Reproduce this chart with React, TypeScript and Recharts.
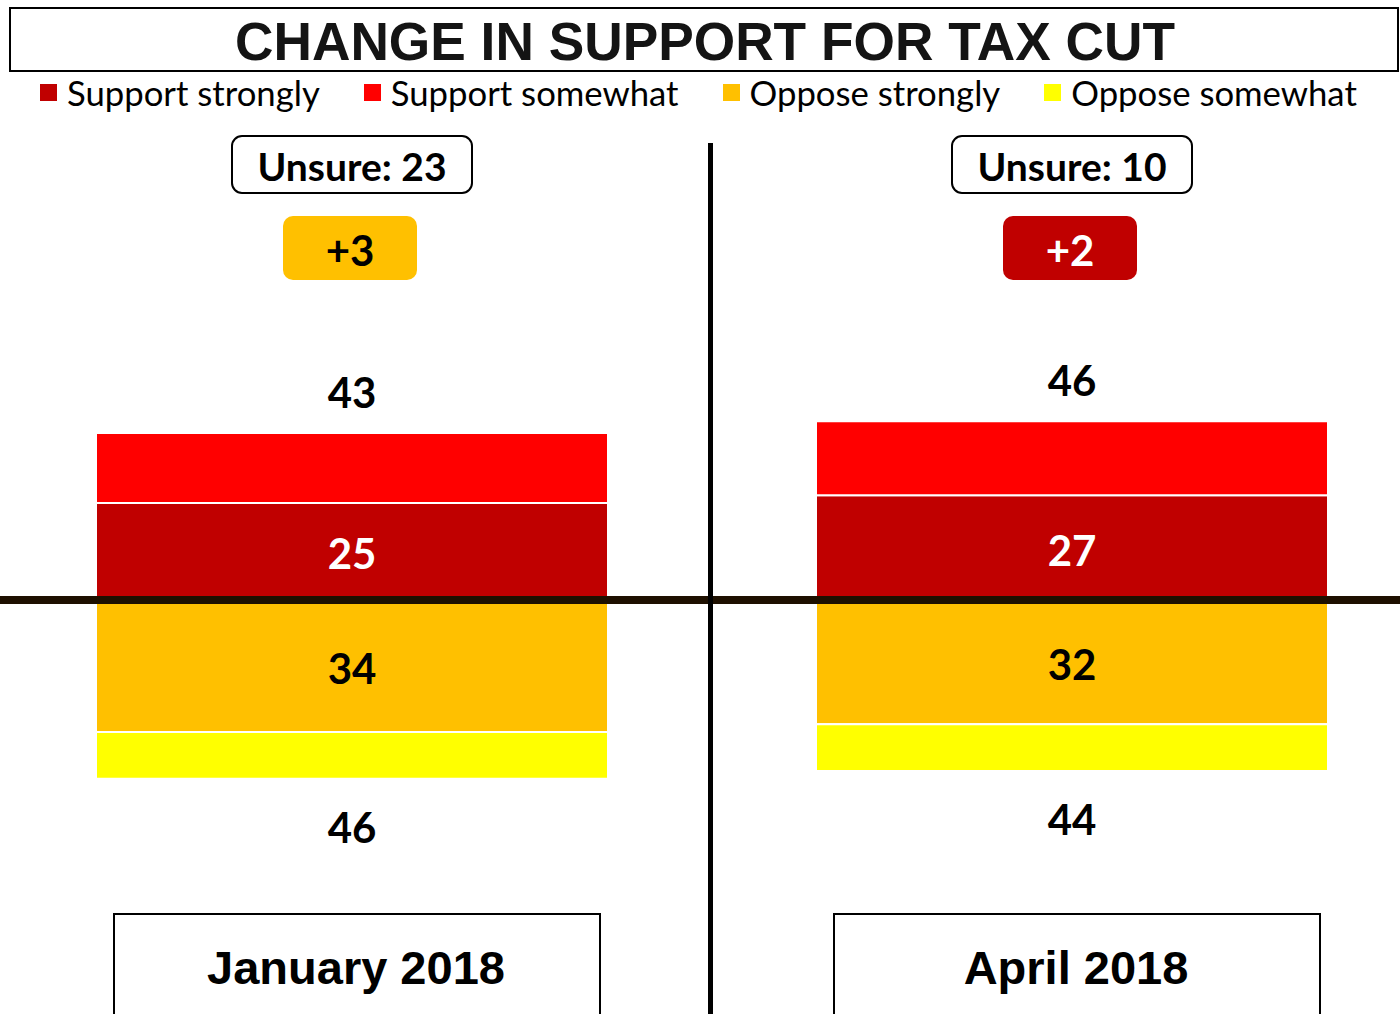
import React from "react";
import { BarChart, Bar, XAxis, YAxis, ReferenceLine, LabelList } from "recharts";

const categories = ["January 2018", "April 2018"];
const supportStrongly = [25, 27];
const supportSomewhat = [18, 19];
const opposeStrongly = [34, 32];
const opposeSomewhat = [12, 12];
const unsure = [23, 10];

const seriesNames = ["Support strongly", "Support somewhat", "Oppose strongly", "Oppose somewhat"];
const seriesColors = ["#C00000", "#FF0000", "#FFC000", "#FFFF00"];

const data = categories.map((name, i) => ({
  name,
  supportStrongly: supportStrongly[i],
  supportSomewhat: supportSomewhat[i],
  opposeStrongly: -opposeStrongly[i],
  opposeSomewhat: -opposeSomewhat[i],
}));

const BOLD = "Lato, 'Noto Sans', sans-serif";
const ARIAL = "'Liberation Sans', Arial, sans-serif";

const CenterLabel = (color: string) => (props: any) => {
  const { x, y, width, height, value } = props;
  return (
    <text x={x + width / 2} y={y + height / 2 + 2} textAnchor="middle" dominantBaseline="central"
      fill={color} fontFamily={BOLD} fontWeight={700} fontSize={42}>
      {Math.abs(value)}
    </text>
  );
};

const TopTotal = (props: any) => {
  const { x, y, width, height, index } = props;
  const top = Math.min(y, y + height);
  const total = supportStrongly[index] + supportSomewhat[index];
  return (
    <text x={x + width / 2} y={top - 41} textAnchor="middle" dominantBaseline="central"
      fill="#000" fontFamily={BOLD} fontWeight={700} fontSize={42}>
      {total}
    </text>
  );
};

const BottomTotal = (props: any) => {
  const { x, y, width, height, index } = props;
  const bottom = Math.max(y, y + height);
  const total = opposeStrongly[index] + opposeSomewhat[index];
  return (
    <text x={x + width / 2} y={bottom + 48} textAnchor="middle" dominantBaseline="central"
      fill="#000" fontFamily={BOLD} fontWeight={700} fontSize={42}>
      {total}
    </text>
  );
};

const CategoryTick = (props: any) => {
  const { x, payload } = props;
  const i = categories.indexOf(payload.value);
  const sup = supportStrongly[i] + supportSomewhat[i];
  const opp = opposeStrongly[i] + opposeSomewhat[i];
  const supportLeads = sup >= opp;
  const diff = Math.abs(sup - opp);
  const netFill = supportLeads ? seriesColors[0] : seriesColors[2];
  const netText = supportLeads ? "#fff" : "#000";
  return (
    <g>
      <rect x={x - 120} y={136} width={240} height={57} rx={10} ry={10} fill="#fff" stroke="#000" strokeWidth={2} />
      <text x={x} y={166} textAnchor="middle" dominantBaseline="central" fill="#000"
        fontFamily={BOLD} fontWeight={700} fontSize={39}>
        {`Unsure: ${unsure[i]}`}
      </text>
      <rect x={x - 69} y={216} width={134} height={64} rx={10} ry={10} fill={netFill} />
      <text x={x - 2} y={250} textAnchor="middle" dominantBaseline="central" fill={netText}
        fontFamily={BOLD} fontWeight={700} fontSize={42}>
        {`+${diff}`}
      </text>
      <rect x={x + 5 - 243} y={914} width={486} height={120} fill="#fff" stroke="#000" strokeWidth={2} />
      <text x={x + 4} y={967} textAnchor="middle" dominantBaseline="central" fill="#000"
        fontFamily={ARIAL} fontWeight={700} fontSize={47}>
        {payload.value}
      </text>
    </g>
  );
};

export default function App() {
  return (
    <div style={{ position: "absolute", left: 0, top: 0, width: 1400, height: 1014, overflow: "hidden", background: "#fff" }}>
      <svg width={1400} height={80} style={{ position: "absolute", left: 0, top: 0 }}>
        <rect x={10} y={8} width={1388} height={63} fill="#fff" stroke="#000" strokeWidth={2} />
        <text x={705} y={60} textAnchor="middle" fill="#141414" fontFamily={ARIAL} fontWeight={700} fontSize={53}
          textLength={940} lengthAdjust="spacingAndGlyphs">
          CHANGE IN SUPPORT FOR TAX CUT
        </text>
      </svg>
      <div style={{ position: "absolute", left: 40, top: 72, display: "flex", alignItems: "center", gap: 44,
        fontFamily: "Lato, sans-serif", fontSize: 34.7, color: "#000", whiteSpace: "nowrap" }}>
        {seriesNames.map((n, i) => (
          <div key={n} style={{ display: "flex", alignItems: "center" }}>
            <div style={{ width: 17, height: 17, background: seriesColors[i], marginRight: 10 }} />
            <span>{n}</span>
          </div>
        ))}
      </div>
      <div style={{ position: "absolute", left: -8, top: 0 }}>
        <BarChart width={1440} height={1014} data={data} stackOffset="sign"
          margin={{ top: 0, right: 0, bottom: 0, left: 0 }}>
          <XAxis dataKey="name" height={1} axisLine={false} tickLine={false} tick={<CategoryTick />} interval={0} />
          <YAxis hide type="number" domain={[-106.33, 154.48]} allowDataOverflow />
          <Bar dataKey="supportStrongly" stackId="a" fill={seriesColors[0]} barSize={512} stroke="#fff" strokeWidth={2} isAnimationActive={false}>
            <LabelList dataKey="supportStrongly" content={CenterLabel("#fff")} />
          </Bar>
          <Bar dataKey="supportSomewhat" stackId="a" fill={seriesColors[1]} barSize={512} stroke="#fff" strokeWidth={2} isAnimationActive={false}>
            <LabelList dataKey="supportSomewhat" content={TopTotal} />
          </Bar>
          <Bar dataKey="opposeStrongly" stackId="a" fill={seriesColors[2]} barSize={512} stroke="#fff" strokeWidth={2} isAnimationActive={false}>
            <LabelList dataKey="opposeStrongly" content={CenterLabel("#000")} />
          </Bar>
          <Bar dataKey="opposeSomewhat" stackId="a" fill={seriesColors[3]} barSize={512} stroke="#fff" strokeWidth={2} isAnimationActive={false}>
            <LabelList dataKey="opposeSomewhat" content={BottomTotal} />
          </Bar>
          <ReferenceLine y={0} stroke="#1E1000" strokeWidth={8} />
        </BarChart>
      </div>
      <div style={{ position: "absolute", left: 708, top: 143, width: 5, height: 871, background: "#000" }} />
    </div>
  );
}
